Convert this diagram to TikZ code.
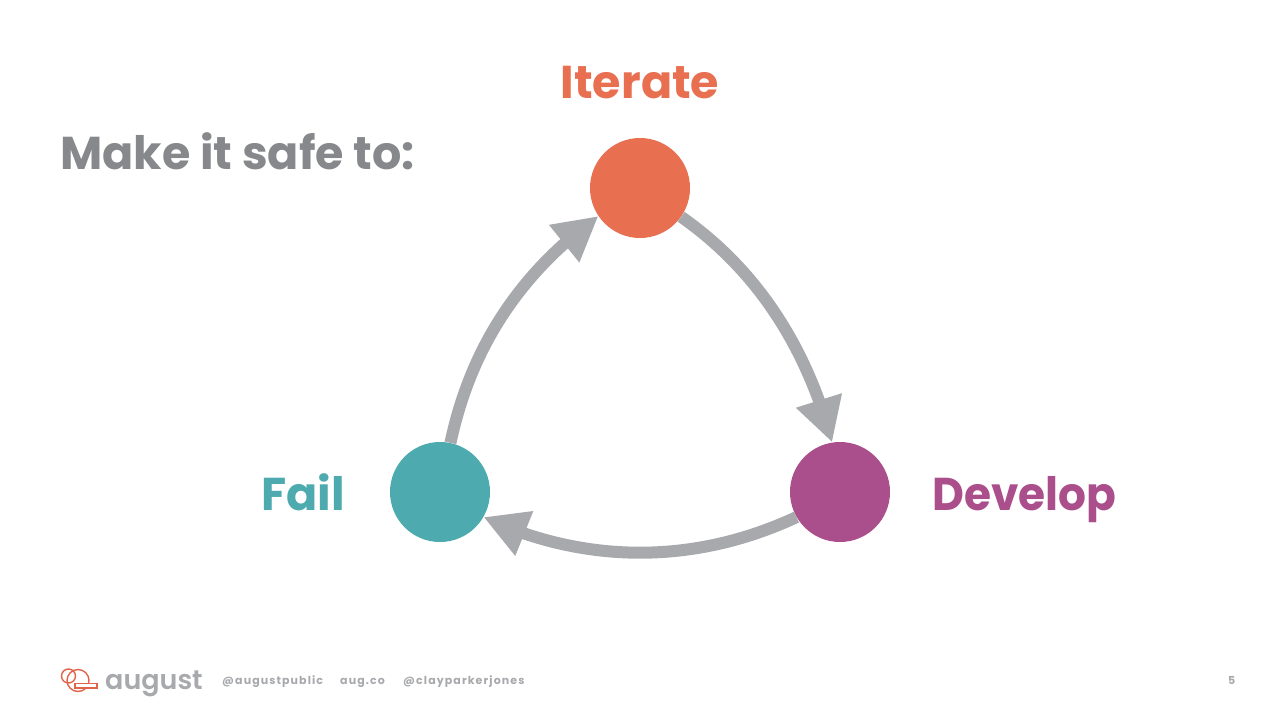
\documentclass[tikz,border=0pt]{standalone}
\usepackage{fontspec}
\setmainfont{Poppins}
\newfontfamily\foot[LetterSpace=10]{Poppins}
\newfontfamily\logofont{Poppins SemiBold}
\usetikzlibrary{arrows.meta,bending}
\definecolor{cIter}{HTML}{E86F50}
\definecolor{cDev}{HTML}{AA4F8B}
\definecolor{cFail}{HTML}{4DAAAF}
\definecolor{cArrow}{HTML}{A7A9AC}
\definecolor{cTitle}{HTML}{87888B}
\definecolor{cLogo}{HTML}{E0654A}
\tikzset{
  stage/.style={circle,minimum size=100pt,inner sep=0pt,fill=#1},
  flow/.style={draw=cArrow,line width=12pt,-{Triangle[length=44pt,width=45pt,flex=1]}},
  head/.style={font=\fontsize{46}{46}\selectfont\bfseries,inner sep=0pt,anchor=base},
  footer/.style={font=\fontsize{11}{11}\selectfont\bfseries\foot,text=cArrow,inner sep=0pt,anchor=base west},
}
\begin{document}
\begin{tikzpicture}[x=1pt,y=-1pt]
\useasboundingbox (0,0) rectangle (1280,720);
\fill[white] (0,0) rectangle (1280,720);
\node[stage=cIter] (iterate) at (640,188) {};
\node[stage=cDev] (develop) at (840,492) {};
\node[stage=cFail] (fail) at (440,492) {};
\draw[flow] (iterate.-35) to[out=-35,in=105,looseness=0.9] (develop.99);
\draw[flow] (develop.210) to[out=205,in=-25,looseness=0.92] (fail.-30);
\draw[flow] (fail.78) to[out=78,in=216,looseness=0.92] (iterate.214);
\node[head,text=cIter] (lIter) at (640,98) {Iterate};
\node[head,text=cDev,anchor=base west] (lDev) at (932,510) {\scalebox{0.953}[1]{Develop}};
\node[head,text=cFail,anchor=base east] (lFail) at (345,510) {Fail};
\node[head,text=cTitle,anchor=base west] (title) at (60,169) {Make it safe to:};
% logo
\draw[cLogo,line width=1.4pt] (68.5,676) circle (7);
\draw[cLogo,line width=1.4pt] (78,680.5) circle (11);
\draw[cLogo,line width=1.4pt,fill=white] (75,683.5) rectangle (97,688);
\node[font=\fontsize{27}{27}\selectfont\logofont,text=cArrow,inner sep=0pt,anchor=base west] (logo) at (105,689.5) {august};
\node[footer] (f1) at (222,684) {@augustpublic};
\node[footer] (f2) at (340,684) {aug.co};
\node[footer] (f3) at (403,684) {@clayparkerjones};
\node[footer] (page) at (1228,684) {5};
\end{tikzpicture}
\end{document}
